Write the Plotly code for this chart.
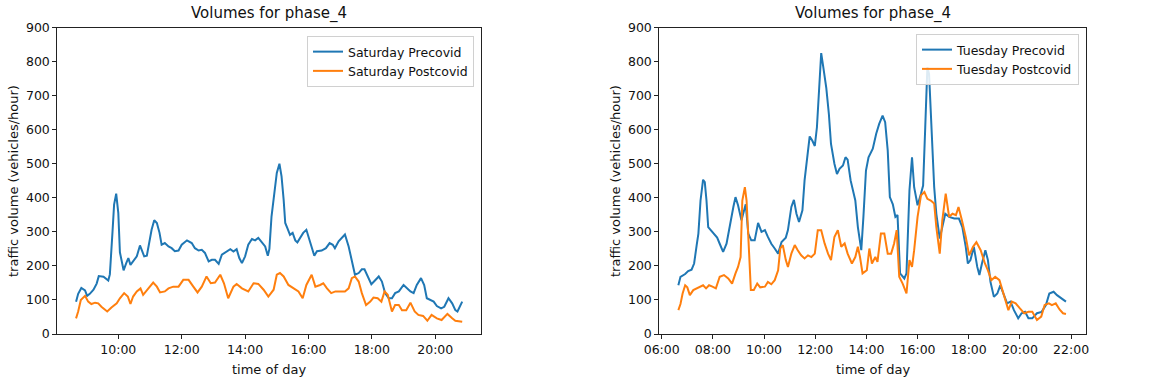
import pandas as pd
import plotly.graph_objects as go

# ---------------- data ----------------
sat_pre_time = ["08:40","08:44","08:50","08:57","09:01","09:06","09:13","09:19","09:23","09:32",
                "09:41","09:44","09:49","09:52","09:56","10:00","10:03","10:10","10:15","10:19",
                "10:23","10:28","10:35","10:41","10:49","10:54","10:57","11:03","11:08","11:13",
                "11:18","11:22","11:28","11:35","11:41","11:47","11:54","12:00","12:10","12:19",
                "12:25","12:32","12:38","12:44","12:51","12:57","13:03","13:10","13:16","13:25",
                "13:32","13:38","13:44","13:49","13:54","14:00","14:06","14:13","14:19","14:25",
                "14:32","14:38","14:43","14:46","14:50","14:54","15:00","15:05","15:09","15:13",
                "15:16","15:20","15:25","15:30","15:35","15:39","15:44","15:50","15:56","16:00",
                "16:06","16:11","16:16","16:25","16:33","16:40","16:46","16:50","16:57","17:03",
                "17:09","17:16","17:22","17:28","17:35","17:41","17:46","17:52","17:59","18:04",
                "18:13","18:19","18:25","18:32","18:38","18:44","18:51","19:00","19:06","19:13",
                "19:19","19:25","19:33","19:39","19:44","19:51","19:57","20:03","20:11","20:17",
                "20:25","20:32","20:38","20:42","20:47","20:51"]
sat_pre_vol = [95,118,135,128,112,118,130,148,170,168,
               157,175,300,380,412,355,240,187,208,223,
               203,213,228,260,228,230,257,306,334,326,
               297,262,267,257,252,243,245,262,275,267,
               252,245,247,238,213,218,218,206,233,243,
               249,242,249,223,208,228,262,279,275,282,
               267,257,230,250,345,404,473,500,463,394,
               326,311,291,297,275,269,282,297,306,287,
               252,230,243,245,252,267,262,252,272,282,
               292,257,218,174,179,190,190,169,146,154,
               169,154,120,105,105,120,125,144,134,125,
               120,144,164,144,105,100,95,82,75,80,
               105,90,70,66,82,95]

sat_post_time = ["08:40","08:44","08:49","08:57","09:03","09:09","09:16","09:22","09:28","09:39",
                 "09:47","09:57","10:03","10:11","10:18","10:23","10:28","10:35","10:42","10:47",
                 "10:57","11:06","11:13","11:19","11:28","11:35","11:44","11:54","12:03","12:13",
                 "12:22","12:30","12:38","12:47","12:55","13:03","13:13","13:20","13:28","13:38",
                 "13:44","13:54","14:06","14:16","14:25","14:35","14:44","14:54","15:00","15:06",
                 "15:13","15:22","15:32","15:41","15:49","15:56","16:06","16:13","16:22","16:28",
                 "16:35","16:43","16:51","17:00","17:09","17:16","17:22","17:28","17:35","17:41",
                 "17:49","17:57","18:03","18:11","18:18","18:24","18:30","18:38","18:44","18:51",
                 "18:57","19:05","19:13","19:21","19:28","19:37","19:45","19:53","20:03","20:12",
                 "20:23","20:32","20:38","20:51"]
sat_post_vol = [46,66,100,112,95,88,92,90,80,66,
                78,90,105,120,110,88,110,125,134,115,
                134,151,139,122,125,134,139,139,159,159,
                139,122,139,169,149,151,174,149,105,139,
                147,134,125,149,147,130,110,130,174,179,
                169,144,134,125,105,144,174,139,144,149,
                134,120,125,125,125,134,164,169,154,120,
                85,95,107,105,95,125,115,66,85,85,
                70,70,92,66,56,53,39,56,46,41,
                59,46,39,36]

tue_pre_time = ["06:39","06:44","06:55","07:02","07:10","07:16","07:22","07:26","07:31","07:37",
                "07:41","07:45","07:49","07:55","08:02","08:10","08:16","08:24","08:32","08:40",
                "08:48","08:53","08:59","09:07","09:12","09:17","09:23","09:30","09:38","09:46",
                "09:54","10:02","10:09","10:17","10:25","10:33","10:41","10:51","10:56","11:04",
                "11:10","11:16","11:22","11:30","11:35","11:41","11:47","11:53","11:59","12:04",
                "12:09","12:14","12:19","12:26","12:32","12:37","12:45","12:51","12:57","13:05",
                "13:11","13:16","13:23","13:28","13:34","13:40","13:48","13:53","13:59","14:05",
                "14:15","14:23","14:30","14:38","14:44","14:50","14:55","15:02","15:08","15:13",
                "15:19","15:29","15:34","15:41","15:47","15:52","16:00","16:08","16:13","16:18",
                "16:23","16:27","16:33","16:39","16:44","16:52","16:58","17:05","17:14","17:26",
                "17:37","17:45","17:53","17:58","18:04","18:12","18:20","18:25","18:31","18:39",
                "18:45","18:51","18:59","19:07","19:14","19:22","19:30","19:38","19:46","19:56",
                "20:04","20:12","20:20","20:29","20:40","20:51","21:01","21:09","21:19","21:27",
                "21:38","21:48"]
tue_pre_vol = [143,168,176,185,189,207,261,295,392,453,
               446,392,314,305,295,283,265,241,265,324,
               373,402,378,334,358,381,295,275,275,326,
               300,305,285,265,251,236,270,283,305,373,
               394,353,329,363,451,519,580,568,552,607,
               734,825,783,722,646,558,500,470,485,495,
               519,512,451,427,392,314,246,344,480,519,
               544,588,617,641,622,539,402,381,344,349,
               178,163,178,422,519,431,378,412,436,607,
               783,763,588,431,353,280,314,353,344,339,
               339,314,256,207,217,256,197,173,207,246,
               217,153,109,119,143,119,90,95,70,46,
               61,65,46,46,61,65,85,119,124,114,
               104,95]

tue_post_time = ["06:39","06:44","06:49","06:55","07:00","07:06","07:14","07:22","07:31","07:37",
                 "07:44","07:51","07:59","08:07","08:16","08:26","08:36","08:45","08:53","08:59",
                 "09:05","09:09","09:15","09:19","09:25","09:29","09:36","09:44","09:51","10:02",
                 "10:09","10:17","10:25","10:33","10:38","10:44","10:51","10:56","11:04","11:12",
                 "11:19","11:27","11:35","11:43","11:51","11:59","12:06","12:14","12:22","12:30",
                 "12:37","12:45","12:53","13:01","13:09","13:16","13:26","13:34","13:40","13:45",
                 "13:51","14:01","14:07","14:13","14:21","14:26","14:34","14:42","14:50","14:58",
                 "15:05","15:11","15:17","15:25","15:34","15:41","15:47","15:52","16:00","16:08",
                 "16:16","16:23","16:31","16:39","16:44","16:52","16:58","17:06","17:14","17:22",
                 "17:30","17:36","17:44","17:53","18:01","18:10","18:18","18:28","18:38","18:45",
                 "18:53","19:02","19:12","19:22","19:33","19:41","19:50","20:00","20:10","20:20",
                 "20:29","20:40","20:50","20:58","21:08","21:15","21:24","21:33","21:41","21:48"]
tue_post_vol = [70,88,119,143,137,114,129,134,139,143,
                134,143,139,134,168,173,163,148,178,197,
                226,392,431,392,236,129,129,148,137,139,
                153,146,158,187,251,261,217,197,236,261,
                246,231,222,231,226,236,305,305,266,236,
                217,285,305,256,266,236,207,226,256,226,
                178,187,251,207,226,212,295,295,236,236,
                266,305,168,148,119,217,197,246,344,407,
                417,397,392,383,314,236,334,412,344,353,
                349,373,334,285,231,256,270,246,207,187,
                158,168,158,114,70,95,90,75,61,65,
                65,41,51,85,90,85,90,72,61,59]

sat_ticks = ["10:00", "12:00", "14:00", "16:00", "18:00", "20:00"]
tue_ticks = ["06:00", "08:00", "10:00", "12:00", "14:00", "16:00", "18:00", "20:00", "22:00"]
y_ticks = [0, 100, 200, 300, 400, 500, 600, 700, 800, 900]

for a, b in [(sat_pre_time, sat_pre_vol), (sat_post_time, sat_post_vol),
             (tue_pre_time, tue_pre_vol), (tue_post_time, tue_post_vol)]:
    assert len(a) == len(b), (len(a), len(b))

DAY = "2020-01-01 "


def dt(lst):
    return pd.to_datetime([DAY + t for t in lst])


BLUE = "#1f77b4"
ORANGE = "#ff7f0e"
FONT = "DejaVu Sans"
W, H = 1149, 383
LW = 2.0

fig = go.Figure()
fig.add_trace(go.Scatter(x=dt(sat_pre_time), y=sat_pre_vol, mode="lines", name="Saturday Precovid",
                         line=dict(color=BLUE, width=LW), xaxis="x", yaxis="y", legend="legend"))
fig.add_trace(go.Scatter(x=dt(sat_post_time), y=sat_post_vol, mode="lines", name="Saturday Postcovid",
                         line=dict(color=ORANGE, width=LW), xaxis="x", yaxis="y", legend="legend"))
fig.add_trace(go.Scatter(x=dt(tue_pre_time), y=tue_pre_vol, mode="lines", name="Tuesday Precovid",
                         line=dict(color=BLUE, width=LW), xaxis="x2", yaxis="y2", legend="legend2"))
fig.add_trace(go.Scatter(x=dt(tue_post_time), y=tue_post_vol, mode="lines", name="Tuesday Postcovid",
                         line=dict(color=ORANGE, width=LW), xaxis="x2", yaxis="y2", legend="legend2"))

axis_common = dict(showline=True, mirror=True, linecolor="#222", linewidth=1,
                   ticks="outside", ticklen=4, tickwidth=1, tickcolor="#222",
                   showgrid=False, zeroline=False, automargin=False,
                   tickfont=dict(family=FONT, size=12.5, color="#111"))

# plot-area geometry in pixels
L1, R1 = 57.3, 480.7
L2, R2 = 659.3, 1086.0
TOP, BOT = 27.5, 334.0

fig.update_layout(
    width=W, height=H,
    margin=dict(l=0, r=0, t=0, b=0),
    paper_bgcolor="white", plot_bgcolor="white",
    font=dict(family=FONT, color="#111"),
    xaxis=dict(domain=[L1 / W, R1 / W], anchor="y", type="date",
               range=[DAY + "08:04:30", DAY + "21:26:00"],
               tickvals=[DAY + t for t in sat_ticks], ticktext=sat_ticks, **axis_common),
    yaxis=dict(domain=[1 - BOT / H, 1 - TOP / H], anchor="x", range=[0, 900],
               tickvals=y_ticks, **axis_common),
    xaxis2=dict(domain=[L2 / W, R2 / W], anchor="y2", type="date",
                range=[DAY + "05:54:20", DAY + "22:35:00"],
                tickvals=[DAY + t for t in tue_ticks], ticktext=tue_ticks, **axis_common),
    yaxis2=dict(domain=[1 - BOT / H, 1 - TOP / H], anchor="x2", range=[0, 900],
                tickvals=y_ticks, **axis_common),
    legend=dict(x=474 / W, xanchor="right", y=1 - 36 / H, yanchor="top",
                bgcolor="rgba(255,255,255,0.85)", bordercolor="#d0d0d0", borderwidth=1,
                font=dict(family=FONT, size=12.5, color="#111"), itemwidth=30,
                tracegroupgap=0),
    legend2=dict(x=1079 / W, xanchor="right", y=1 - 34 / H, yanchor="top",
                 bgcolor="rgba(255,255,255,0.85)", bordercolor="#d0d0d0", borderwidth=1,
                 font=dict(family=FONT, size=12.5, color="#111"), itemwidth=30,
                 tracegroupgap=0),
    showlegend=True,
)

ann_font = dict(family=FONT, size=13, color="#111")
title_font = dict(family=FONT, size=15, color="#111")
annotations = [
    dict(text="Volumes for phase_4", x=(L1 + R1) / 2 / W, y=1 - 14 / H, font=title_font),
    dict(text="Volumes for phase_4", x=(L2 + R2) / 2 / W, y=1 - 13 / H, font=title_font),
    dict(text="time of day", x=(L1 + R1) / 2 / W, y=1 - 369 / H, font=ann_font),
    dict(text="time of day", x=(L2 + R2) / 2 / W, y=1 - 369 / H, font=ann_font),
    dict(text="traffic volume (vehicles/hour)", x=13 / W, y=1 - 181 / H, textangle=-90, font=ann_font),
    dict(text="traffic volume (vehicles/hour)", x=615 / W, y=1 - 181 / H, textangle=-90, font=ann_font),
]
for a in annotations:
    a.update(xref="paper", yref="paper", showarrow=False, xanchor="center", yanchor="middle")
fig.update_layout(annotations=annotations)

fig.write_html("out.html")
